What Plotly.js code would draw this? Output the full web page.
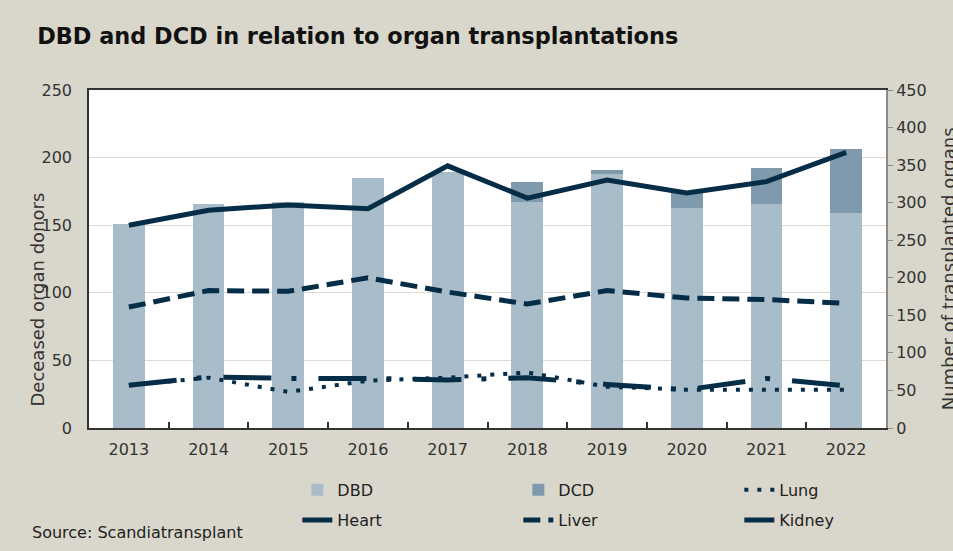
<!DOCTYPE html>
<html>
<head>
<meta charset="utf-8">
<script src="https://cdn.plot.ly/plotly-3.0.1.min.js"></script>
<style>html,body{margin:0;padding:0;background:#d9d7cb;}#chart{width:953px;height:551px;}</style>
</head>
<body>
<div id="chart"></div>
<script>
const years = ['2013','2014','2015','2016','2017','2018','2019','2020','2021','2022'];
const dbd = [151,166,167,185,189,167,188,163,166,159];
const dcd = [0,0,0,0,0,15,3,12,26,47];
const lung = [57,67,48,63,67,74,55,51,51,51];
const heart = [57,68,66,66,64,67,58,51,66,56];
const liver = [161,183,182,200,181,165,183,173,171,166];
const kidney = [270,290,297,292,349,306,330,313,328,367];

const navy = '#062d48';
const font = '"DejaVu Sans", sans-serif';

const traces = [
  {type:'bar', name:'DBD', x:years, y:dbd, marker:{color:'#a8bdc9'}, yaxis:'y', legend:'legend'},
  {type:'bar', name:'DCD', x:years, y:dcd, marker:{color:'#7f9aac'}, yaxis:'y', legend:'legend'},
  {type:'scatter', mode:'lines', name:'Lung', x:years, y:lung, yaxis:'y2', legend:'legend',
   line:{color:navy, width:4, dash:'4px,9px'}},
  {type:'scatter', mode:'lines', name:'Heart', x:years, y:heart, yaxis:'y2', legend:'legend2',
   line:{color:navy, width:5, dash:'48px,20px,5px,22px'}},
  {type:'scatter', mode:'lines', name:'Liver', x:years, y:liver, yaxis:'y2', legend:'legend2',
   line:{color:navy, width:5, dash:'17px,8px'}},
  {type:'scatter', mode:'lines', name:'Kidney', x:years, y:kidney, yaxis:'y2', legend:'legend2',
   line:{color:navy, width:5}}
];

const legendBase = {orientation:'h', xanchor:'left', yanchor:'middle',
  xref:'container', yref:'container',
  entrywidth:176, entrywidthmode:'pixels', bgcolor:'rgba(0,0,0,0)',
  font:{family:font, size:16, color:'#222'}, traceorder:'normal'};

const layout = {
  width:953, height:551,
  paper_bgcolor:'#d9d7cb', plot_bgcolor:'#ffffff',
  margin:{l:89, r:67, t:90, b:123, autoexpand:false},
  barmode:'stack', bargap:0.6,
  font:{family:font, size:16, color:'#333'},
  title:{text:'<b>DBD and DCD in relation to organ transplantations</b>',
    x:0.039, xanchor:'left', xref:'container', y:0.935, yanchor:'middle',
    font:{family:font, size:22.4, color:'#111'}},
  xaxis:{type:'category', showline:true, linecolor:'#333', linewidth:1.5, mirror:true,
    ticks:'inside', tickson:'boundaries', ticklen:6, tickcolor:'#333', tickwidth:1.5,
    showgrid:false, tickfont:{size:16, color:'#333'}, ticklabelstandoff:6},
  yaxis:{range:[0,250], dtick:50, showline:true, linecolor:'#333', linewidth:1.5,
    ticks:'', showgrid:true, gridcolor:'#dedbd0', gridwidth:1, zeroline:false,
    tickfont:{size:16, color:'#333'}, ticklabelstandoff:12},
  yaxis2:{range:[0,450], dtick:50, overlaying:'y', side:'right', showline:true,
    linecolor:'#8a8a8a', linewidth:2, ticks:'outside', ticklen:5, tickcolor:'#8a8a8a',
    showgrid:false, zeroline:false, tickfont:{size:16, color:'#333'}},
  showlegend:true,
  legend:Object.assign({}, legendBase, {x:0.312, y:0.111}),
  legend2:Object.assign({}, legendBase, {x:0.312, y:0.056}),
  annotations:[
    {text:'Deceased organ donors', textangle:-90, xref:'paper', yref:'paper',
     x:-0.064, y:0.38, xanchor:'center', yanchor:'middle', showarrow:false,
     font:{size:18, color:'#333'}},
    {text:'Number of transplanted organs', textangle:-90, xref:'paper', yref:'paper',
     x:1.078, y:0.47, xanchor:'center', yanchor:'middle', showarrow:false,
     font:{size:18, color:'#333'}},
    {text:'Source: Scandiatransplant', xref:'paper', yref:'paper',
     x:-0.074, y:-0.31, xanchor:'left', yanchor:'middle', showarrow:false,
     font:{size:16, color:'#222'}}
  ]
};

Plotly.newPlot('chart', traces, layout, {displayModeBar:false});
</script>
</body>
</html>
